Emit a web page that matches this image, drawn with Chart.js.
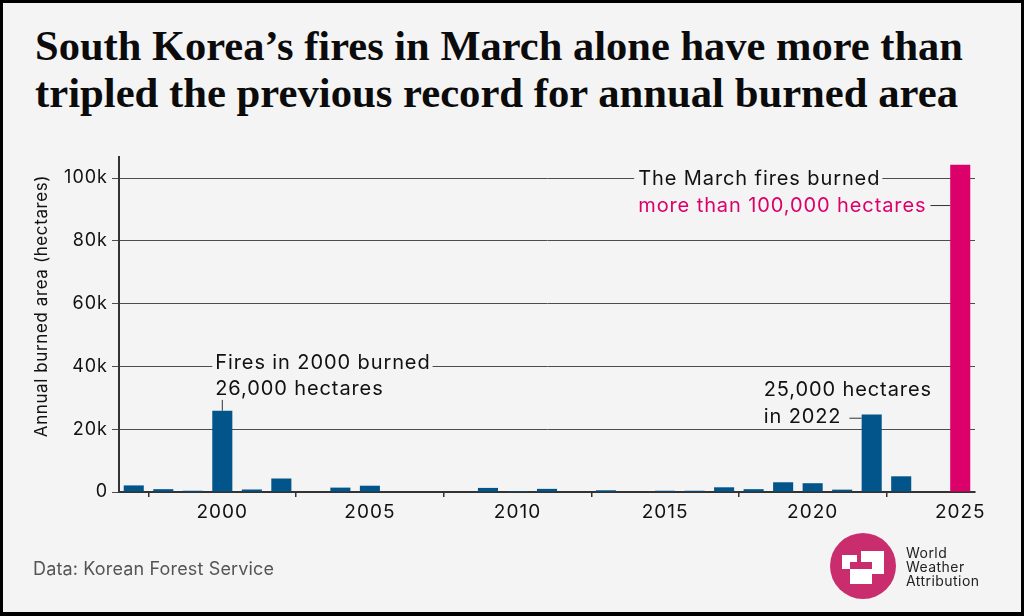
<!DOCTYPE html>
<html>
<head>
<meta charset="utf-8">
<script src="https://cdn.jsdelivr.net/npm/chart.js"></script>
<style>
html, body { margin: 0; padding: 0; background: #000; }
body { width: 1024px; height: 616px; position: relative; overflow: hidden; }
#frame { position: absolute; left: 3px; top: 3px; width: 1018px; height: 609px; background: #f4f4f4; }
#chartbox { position: absolute; left: 0; top: 0; width: 1024px; height: 616px; }
.title { position: absolute; left: 35px; font: bold 42px "Liberation Serif", serif; line-height: 47px; color: #0b0b0b; white-space: nowrap; transform-origin: 0 0; }
#t1 { top: 23px; }
#t2 { top: 70px; }
#source { position: absolute; left: 33px; top: 559px; font: 18px Inter, sans-serif; line-height: 20px; color: #555; letter-spacing: 0.15px; }
#wwa { position: absolute; left: 906px; top: 546px; font: 14px Inter, sans-serif; line-height: 14px; color: #222; letter-spacing: 0.45px; }
#logo { position: absolute; left: 0; top: 0; }
</style>
</head>
<body>
<div id="frame"></div>
<div class="title" id="t1">South Korea’s fires in March alone have more than</div>
<div class="title" id="t2">tripled the previous record for annual burned area</div>
<div id="chartbox"><canvas id="fires"></canvas></div>
<div id="source">Data: Korean Forest Service</div>
<svg id="logo" width="1024" height="616">
  <circle cx="863" cy="566" r="33" fill="#c92d6d"/>
  <rect x="842" y="555" width="15" height="14" fill="#fff"/>
  <rect x="861" y="551" width="23" height="23" fill="#fff"/>
  <rect x="850" y="569" width="22" height="15" fill="#fff"/>
  <rect x="850" y="562" width="7" height="7" fill="#c92d6d"/>
  <rect x="861" y="562" width="11" height="7" fill="#c92d6d"/>
</svg>
<div id="wwa">World<br>Weather<br>Attribution</div>
<script>
// fit the two title lines to the widths in the original
fitLine('t1', 928);
fitLine('t2', 923);
function fitLine(id, target) {
    const el = document.getElementById(id);
    const w = el.getBoundingClientRect().width;
    el.style.transform = 'scaleX(' + (target / w) + ')';
}

const years = [1997, 1998, 1999, 2000, 2001, 2002, 2003, 2004, 2005, 2006,
               2007, 2008, 2009, 2010, 2011, 2012, 2013, 2014, 2015, 2016,
               2017, 2018, 2019, 2020, 2021, 2022, 2023, 2024, 2025];
const burned = [2100, 900, 400, 25900, 800, 4300, 0, 1400, 2000, 0,
                0, 0, 1300, 300, 1000, 0, 550, 0, 400, 400,
                1500, 900, 3100, 2800, 750, 24700, 5000, 0, 104200];
const yTicks = [0, 20000, 40000, 60000, 80000, 100000];

const navy = '#02558a';
const pink = '#dc006b';
const bg = '#f4f4f4';
const ink = '#111';

// the original's sans is wider than Inter, so space it out a little
const spacing = {
    id: 'spacing',
    beforeDraw(chart) {
        chart.ctx.letterSpacing = '1px';
    }
};

const notes = {
    id: 'notes',
    afterDatasetsDraw(chart) {
        const ctx = chart.ctx;
        const x = chart.scales.x;
        const y = chart.scales.y;
        const bars = chart.getDatasetMeta(0).data;
        ctx.save();
        ctx.font = '20px Inter';
        ctx.letterSpacing = '0.9px';
        ctx.textAlign = 'left';
        ctx.textBaseline = 'alphabetic';
        ctx.strokeStyle = '#333';
        ctx.lineWidth = 1;

        // 2000
        let b = bars[3];
        let left = b.x - b.width / 2;
        let tx = left + 3;
        let gy = y.getPixelForValue(40000);
        let l1 = 'Fires in 2000 burned';
        ctx.fillStyle = bg;
        ctx.fillRect(tx - 3, gy - 3, ctx.measureText(l1).width + 5, 6);
        ctx.fillStyle = ink;
        ctx.fillText(l1, tx, gy + 2.5);
        ctx.fillText('26,000 hectares', tx, gy + 28.5);
        ctx.beginPath();
        ctx.moveTo(b.x, gy + 33.5);
        ctx.lineTo(b.x, b.y);
        ctx.stroke();

        // 2022
        b = bars[25];
        left = b.x - b.width / 2;
        tx = left - 98;
        gy = y.getPixelForValue(20000);
        ctx.fillStyle = ink;
        ctx.fillText('25,000 hectares', tx, gy - 33);
        ctx.fillText('in 2022', tx, gy - 6.5);
        let ly = gy - 11;
        ctx.beginPath();
        ctx.moveTo(tx + ctx.measureText('in 2022').width + 8, ly);
        ctx.lineTo(left, ly);
        ctx.stroke();

        // 2025
        b = bars[28];
        left = b.x - b.width / 2;
        tx = left - 312;
        gy = y.getPixelForValue(100000);
        l1 = 'The March fires burned';
        const l2 = 'more than 100,000 hectares';
        ctx.fillStyle = bg;
        ctx.fillRect(tx - 4, gy - 3, ctx.measureText(l1).width + 6, 6);
        ctx.fillStyle = ink;
        ctx.fillText(l1, tx, gy + 6.5);
        ctx.fillStyle = pink;
        ctx.fillText(l2, tx, gy + 34);
        ly = gy + 27.5;
        ctx.beginPath();
        ctx.moveTo(tx + ctx.measureText(l2).width + 4, ly);
        ctx.lineTo(left, ly);
        ctx.stroke();

        // y axis title
        ctx.translate(42, 306);
        ctx.rotate(-Math.PI / 2);
        ctx.font = '17px Inter';
        ctx.letterSpacing = '0.6px';
        ctx.fillStyle = ink;
        ctx.textAlign = 'center';
        ctx.textBaseline = 'middle';
        ctx.fillText('Annual burned area (hectares)', 0, 0);
        ctx.restore();
    }
};

const ctx = document.getElementById('fires');
new Chart(ctx, {
    type: 'bar',
    data: {
        labels: years.map(String),
        datasets: [{
            data: burned,
            backgroundColor: years.map(yr => yr === 2025 ? pink : navy),
            categoryPercentage: 1,
            barPercentage: 0.68
        }]
    },
    options: {
        responsive: true,
        maintainAspectRatio: false,
        animation: false,
        layout: { padding: { left: 20, right: 49, top: 157, bottom: 90 } },
        plugins: { legend: { display: false }, tooltip: { enabled: false } },
        scales: {
            x: {
                afterFit(s) { s.height = 34; },
                grid: { drawOnChartArea: false, tickLength: 5, color: '#333', lineWidth: 1.5 },
                border: { display: true, color: '#333', width: 2 },
                ticks: {
                    autoSkip: false,
                    maxRotation: 0,
                    padding: 4,
                    color: ink,
                    font: { family: 'Inter', size: 19 },
                    callback: function(v, i) {
                        return years[i] % 5 === 0 ? String(years[i]) : null;
                    }
                }
            },
            y: {
                min: 0,
                max: 106700,
                afterFit(s) { s.width = 99; },
                afterBuildTicks(s) {
                    s.ticks = yTicks.map(v => ({ value: v }));
                },
                grid: { color: '#4d4d4d', lineWidth: 1, tickLength: 7 },
                border: { display: true, color: '#333', width: 2 },
                ticks: {
                    padding: 4,
                    color: ink,
                    font: { family: 'Inter', size: 18 },
                    callback: v => v === 0 ? '0' : (v / 1000) + 'k'
                }
            }
        }
    },
    plugins: [spacing, notes]
});
</script>
</body>
</html>
